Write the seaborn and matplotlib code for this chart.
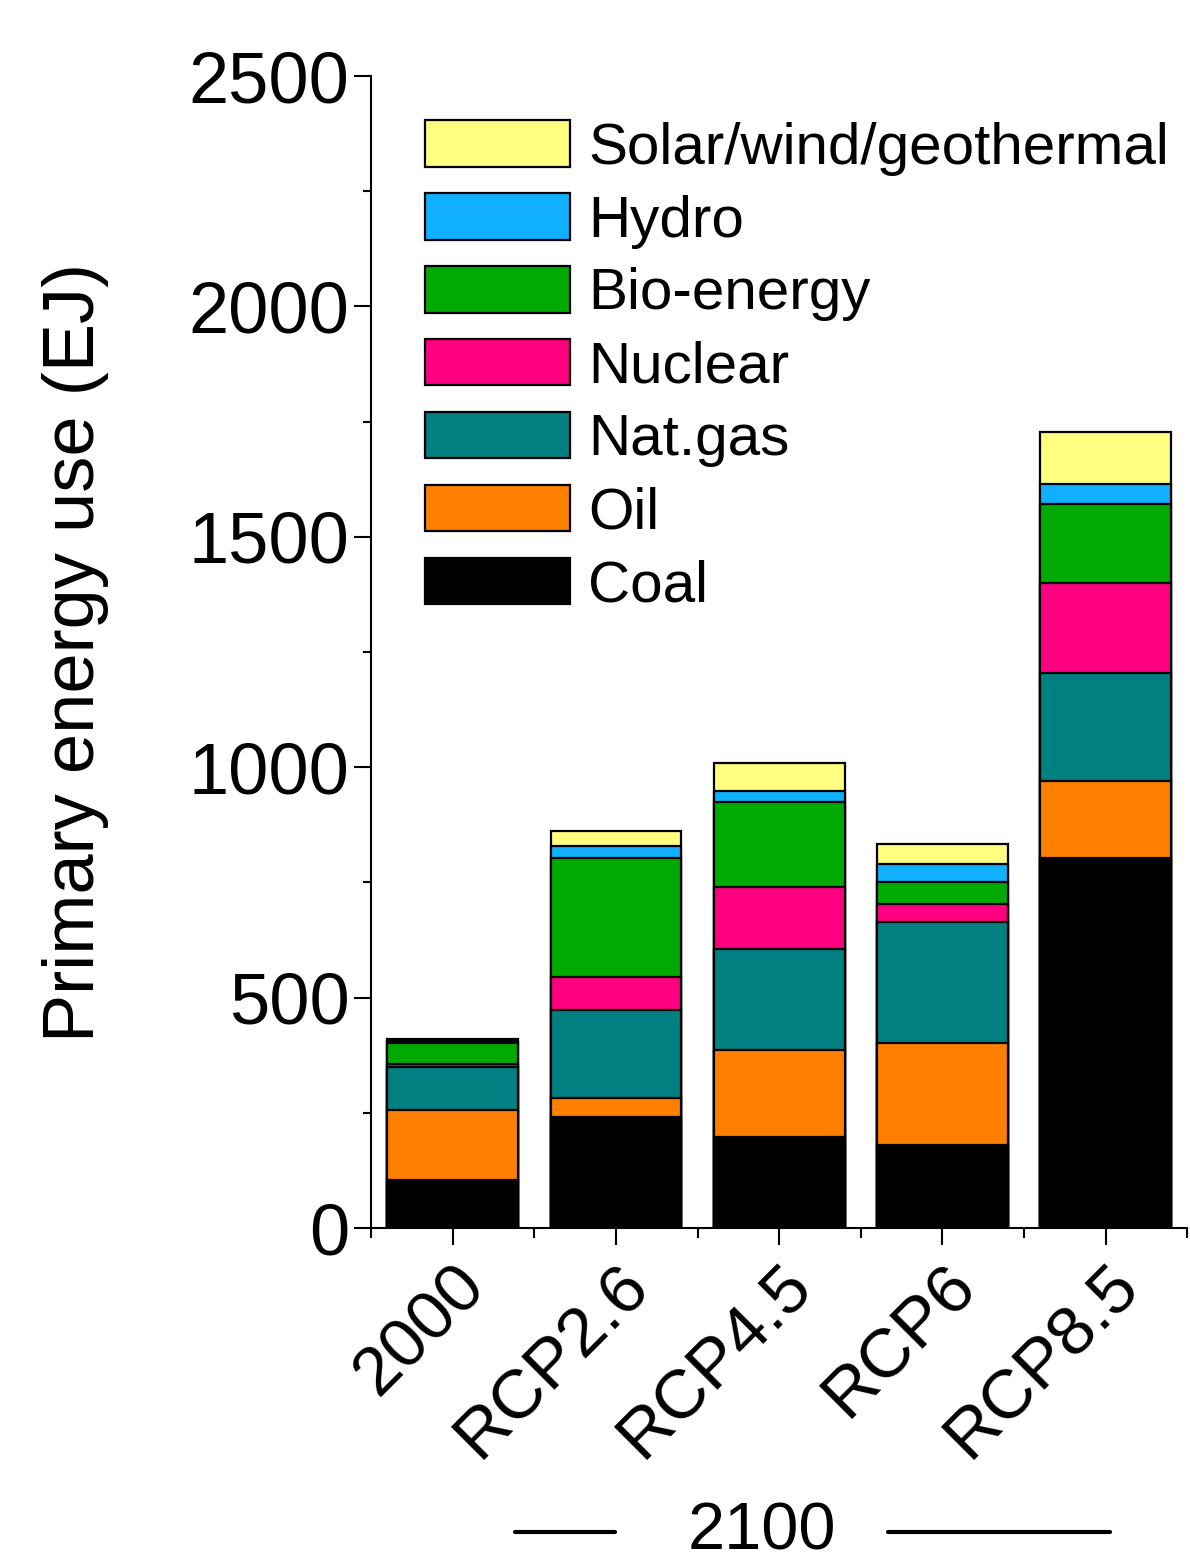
import numpy as np
import pandas as pd
import seaborn as sns
import matplotlib.pyplot as plt
from matplotlib.patches import Patch
from matplotlib.lines import Line2D
from matplotlib.ticker import MultipleLocator

# %%
scenarios = ['2000', 'RCP2.6', 'RCP4.5', 'RCP6', 'RCP8.5']
sources = ['Coal', 'Oil', 'Nat.gas', 'Nuclear', 'Bio-energy', 'Hydro', 'Solar/wind/geothermal']
colors = ['#000000', '#FF8000', '#008080', '#FF0080', '#00AA00', '#10B0FF', '#FFFF80']

coal = [104, 241, 197, 180, 803]
oil = [152, 41, 189, 221, 167]
natgas = [93, 191, 219, 263, 234]
nuclear = [7, 72, 135, 39, 196]
bio = [45, 258, 184, 48, 171]
hydro = [5, 26, 24, 39, 44]
solar = [4, 33, 61, 43, 112]

df = pd.DataFrame({'scenario': scenarios, 'Coal': coal, 'Oil': oil, 'Nat.gas': natgas,
                   'Nuclear': nuclear, 'Bio-energy': bio, 'Hydro': hydro,
                   'Solar/wind/geothermal': solar})
cum = df[sources].cumsum(axis=1)

sns.set_style('ticks', {'axes.edgecolor': 'black', 'text.color': 'black',
                        'xtick.color': 'black', 'ytick.color': 'black',
                        'axes.labelcolor': 'black'})
plt.rcParams['font.family'] = ['Liberation Sans', 'DejaVu Sans']

fig = plt.figure(figsize=(11.9, 15.61), dpi=100)
ax = fig.add_axes([0.3118, 0.2133, 0.686, 0.738])

# stacked bars: draw the cumulative totals from the top layer down
for s, c in zip(sources[::-1], colors[::-1]):
    sns.barplot(x=df['scenario'], y=cum[s], color=c, edgecolor='black',
                linewidth=1.6, width=0.8, errorbar=None, saturation=1, ax=ax)

ax.set_ylim(0, 2500)
ax.set_xlim(-0.5, 4.5)
ax.yaxis.set_major_locator(MultipleLocator(500))
ax.yaxis.set_minor_locator(MultipleLocator(250))
ax.set_xticks(range(5))
ax.set_xticks(np.arange(-0.5, 5, 1), minor=True)
ax.set_xticklabels(scenarios, rotation=45, ha='right', rotation_mode='anchor', fontsize=50)
ax.tick_params(axis='y', labelsize=52, width=1.5, length=12, direction='out')
ax.tick_params(axis='y', which='minor', width=1.5, length=6)
ax.tick_params(axis='x', width=1.5, length=12, pad=6)
ax.tick_params(axis='x', which='minor', width=1.5, length=7)
ax.set_xlabel('')
ax.set_ylabel('Primary energy use (EJ)', fontsize=52, labelpad=57)
sns.despine(ax=ax)
for sp in ['left', 'bottom']:
    ax.spines[sp].set_linewidth(1.5)

handles = [Patch(facecolor=c, edgecolor='black', linewidth=1.6, label=s)
           for s, c in zip(sources[::-1], colors[::-1])]
ax.legend(handles=handles, loc='upper left', bbox_to_anchor=(0.037, 0.982), frameon=False,
          fontsize=42, handlelength=2.5, handleheight=0.85, labelspacing=0.3,
          handletextpad=0.3, borderaxespad=0)

fig.text(0.640, 0.0185, '2100', fontsize=48, ha='center', va='center')
fig.add_artist(Line2D([515 / 1190, 615 / 1190], [0.0185, 0.0185], color='black', lw=3))
fig.add_artist(Line2D([888 / 1190, 1110 / 1190], [0.0185, 0.0185], color='black', lw=3))

fig.savefig('out.png', dpi=100)
